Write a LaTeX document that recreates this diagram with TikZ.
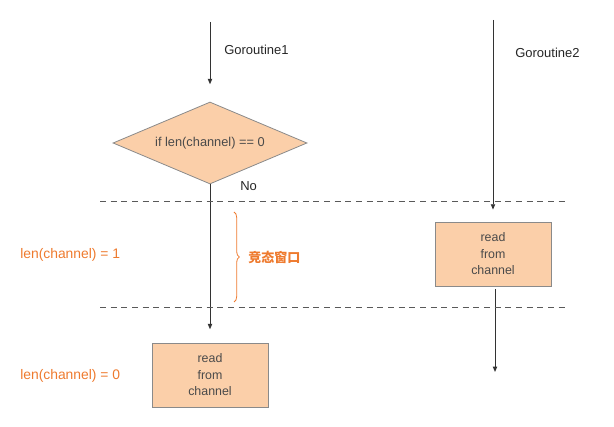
\documentclass[tikz,border=0pt]{standalone}
\usepackage{fontspec}
\setmainfont{Liberation Sans}
\newfontfamily\cjk{Noto Sans CJK SC}
\usetikzlibrary{shapes.geometric,arrows.meta,decorations.pathreplacing}
\definecolor{peach}{HTML}{FBCFA9}
\definecolor{boxline}{HTML}{8A8A8A}
\definecolor{txtgray}{HTML}{4A4A4A}
\definecolor{orng}{HTML}{EE7A2E}
\tikzset{
  flow/.style={draw=black!80, line width=0.7pt, -{Triangle[length=4pt,width=3.2pt]}},
  procbox/.style={draw=boxline, fill=peach, line width=0.6pt, minimum width=87pt, minimum height=48pt, inner sep=0pt, align=center, font=\fontsize{9.3pt}{12.4pt}\selectfont, text=txtgray},
  decide/.style={diamond, aspect=2.37, draw=boxline, fill=peach, line width=0.6pt, minimum width=145.5pt, minimum height=61.5pt, inner sep=0pt, font=\fontsize{9.6pt}{11pt}\selectfont, text=txtgray},
  lbl/.style={font=\fontsize{9.75pt}{12pt}\selectfont, text=black!85, inner sep=0pt, anchor=west},
  olbl/.style={font=\fontsize{10.4pt}{12pt}\selectfont, text=orng, inner sep=0pt, anchor=west},
  sep/.style={draw=black!65, line width=0.7pt, dash pattern=on 4.5pt off 3.5pt}
}
\begin{document}
\begin{tikzpicture}[x=0.75pt,y=-0.75pt]
\useasboundingbox (0,0) rectangle (614,427);
% Goroutine1
\coordinate (g1top) at (210,22);
\node[decide] (cond) at (210,143) {if len(channel) == 0};
\node[lbl] (g1lbl) at (224,50) {Goroutine1};
\draw[flow] (g1top) -- ([yshift=13pt]cond.north);
\node[lbl] (no) at (240,186) {No};
\node[procbox] (read1) at (210,375) {read\\from\\channel};
\draw[flow] (cond.south) -- ([yshift=10pt]read1.north);
% Goroutine2
\coordinate (g2top) at (493,20);
\node[procbox] (read2) at (493,254) {read\\from\\channel};
\node[lbl] (g2lbl) at (515,53) {Goroutine2};
\draw[flow] (g2top) -- ([yshift=9pt]read2.north);
\coordinate (g2end) at (495,372);
\draw[flow] ([xshift=1.5pt,yshift=-2pt]read2.south) -- (g2end);
% dashed separators
\coordinate (d1a) at (100,201); \coordinate (d1b) at (568,201);
\coordinate (d2a) at (100,307); \coordinate (d2b) at (568,307);
\draw[sep] (d1a) -- (d1b);
\draw[sep] (d2a) -- (d2b);
% brace and labels
\coordinate (bra) at (234,212); \coordinate (brb) at (234,302);
\draw[orng, line width=0.6pt, decorate, decoration={brace, amplitude=4pt}] (bra) -- (brb);
\node[olbl, font=\fontsize{9.75pt}{12pt}\selectfont] (race) at (248,257) {\cjk\bfseries 竞态窗口};
\node[olbl] (len1) at (20,255) {len(channel) = 1};
\node[olbl] (len0) at (20,376) {len(channel) = 0};
\end{tikzpicture}
\end{document}
